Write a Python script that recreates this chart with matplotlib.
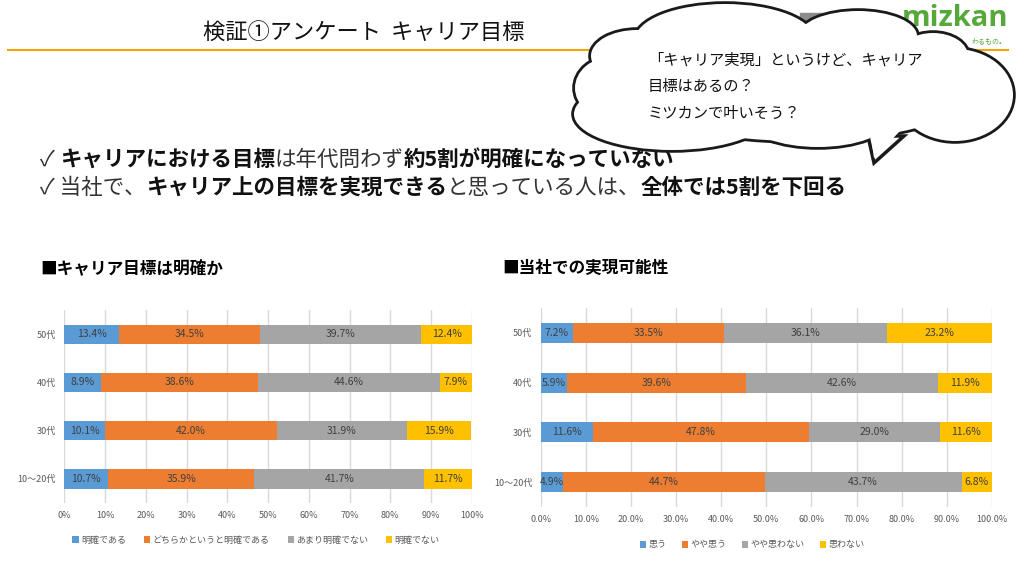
import matplotlib
matplotlib.use("Agg")
import matplotlib.pyplot as plt
from matplotlib.patches import Ellipse, Rectangle, Polygon
import numpy as np

plt.rcParams['font.family'] = ['Noto Sans CJK JP', 'DejaVu Sans']

# data
ages = ['10～20代', '30代', '40代', '50代']

goal_labels = ['明確である', 'どちらかというと明確である', 'あまり明確でない', '明確でない']
goal_vals = [
    [10.7, 10.1, 8.9, 13.4],
    [35.9, 42.0, 38.6, 34.5],
    [41.7, 31.9, 44.6, 39.7],
    [11.7, 15.9, 7.9, 12.4],
]

real_labels = ['思う', 'やや思う', 'やや思わない', '思わない']
real_vals = [
    [4.9, 11.6, 5.9, 7.2],
    [44.7, 47.8, 39.6, 33.5],
    [43.7, 29.0, 42.6, 36.1],
    [6.8, 11.6, 11.9, 23.2],
]

colors = ['#5B9BD5', '#ED7D31', '#A5A5A5', '#FFC000']
xticks = [0, 10, 20, 30, 40, 50, 60, 70, 80, 90, 100]

fig = plt.figure(figsize=(10.24, 5.74), dpi=100)
fig.patch.set_facecolor('white')

# overlay in pixel coords for slide decoration
bg = fig.add_axes([0, 0, 1, 1], zorder=3)
bg.set_xlim(0, 1024)
bg.set_ylim(574, 0)
bg.axis('off')
bg.patch.set_alpha(0)


def stacked(ax, vals, labels, fmt):
    y = np.arange(len(ages))
    left = np.zeros(len(ages))
    for v, lab, c in zip(vals, labels, colors):
        bars = ax.barh(y, v, left=left, height=0.4, color=c, label=lab, zorder=2)
        ax.bar_label(bars, labels=['%.1f%%' % a for a in v], label_type='center',
                     fontsize=7.5, color='#404040')
        left = left + np.array(v)
    ax.set_xlim(0, 100)
    ax.set_ylim(-0.5, 3.5)
    ax.set_yticks(y)
    ax.set_yticklabels(ages, fontsize=6.5, color='#595959')
    ax.set_xticks(xticks)
    ax.set_xticklabels([fmt.format(t) for t in xticks], fontsize=6.5, color='#595959')
    ax.tick_params(length=0, pad=6)
    ax.grid(axis='x', color='#D9D9D9', lw=1, zorder=0)
    for s in ax.spines.values():
        s.set_visible(False)


leg_kw = dict(loc='center', bbox_transform=fig.transFigure, ncol=4, frameon=False, fontsize=6.5,
              handlelength=0.7, handleheight=0.7, handletextpad=0.25, labelcolor='#595959')

ax1 = fig.add_axes([0.0628, 0.1237, 0.398, 0.336])
stacked(ax1, goal_vals, goal_labels, '{:.0f}%')
ax1.legend(bbox_to_anchor=(256 / 1024, 1 - 540 / 574), columnspacing=2.0, **leg_kw)

ax2 = fig.add_axes([0.528, 0.1167, 0.4407, 0.3467])
stacked(ax2, real_vals, real_labels, '{:.1f}%')
ax2.legend(bbox_to_anchor=(752 / 1024, 1 - 545 / 574), columnspacing=1.7, **leg_kw)

# title and rule
bg.text(364, 32, '検証①アンケート  キャリア目標', fontsize=16, ha='center', va='center', color='#111111')
bg.plot([8, 1008], [50, 50], color='#F5A50A', lw=1.5, zorder=1)

# logo (partly behind the cloud)
bg.add_patch(Rectangle((800, 13), 70, 7, color='#8C8C8C', zorder=1))
bg.text(1008, 18, 'mizkan', fontsize=21, fontweight='bold', color='#56A83A', ha='right',
        va='center', family='Open Sans', zorder=1)
bg.text(1007, 41, 'わるもの。', fontsize=5, color='#56A83A', ha='right', va='center', zorder=1)

# cloud: outlined lobes, then white fill on top to hide inner edges
lobes = [
    (612, 88, 74, 62), (637, 56, 92, 52), (725, 40, 180, 72), (858, 36, 118, 50),
    (933, 56, 70, 46), (955, 95, 116, 92), (818, 120, 140, 54), (672, 114, 196, 72),
    (800, 86, 360, 110),
]
tail = [(868, 136), (874, 163), (904, 136)]
for cx, cy, w, h in lobes:
    bg.add_patch(Ellipse((cx, cy), w, h, facecolor='white', edgecolor='#1a1a1a', lw=4, zorder=5))
bg.add_patch(Polygon(tail, closed=True, facecolor='white', edgecolor='#1a1a1a', lw=2.5, zorder=5))
for cx, cy, w, h in lobes:
    bg.add_patch(Ellipse((cx, cy), w, h, facecolor='white', edgecolor='none', zorder=6))
bg.add_patch(Polygon([(870, 130), (874, 158), (901, 130)], closed=True, facecolor='white',
                     edgecolor='none', zorder=6))
cloud_lines = ['「キャリア実現」というけど、キャリア', '目標はあるの？', 'ミツカンで叶いそう？']
for i, s in enumerate(cloud_lines):
    bg.text(648, 60 + 26.5 * i, s, fontsize=11, ha='left', va='center', color='#111111', zorder=7)

# bullet lines with bold runs
r = fig.canvas.get_renderer()


def runs(x, y, parts, size):
    for s, b in parts:
        t = bg.text(x, y, s, fontsize=size, fontweight='bold' if b else 'normal',
                    ha='left', va='baseline', color='#111111' if b else '#333333', zorder=4)
        x += t.get_window_extent(renderer=r).width


runs(40, 166, [('✓ ', False), ('キャリアにおける目標', True), ('は年代問わず', False),
               ('約5割が明確になっていない', True)], 15.5)
runs(40, 194, [('✓ 当社で、', False), ('キャリア上の目標を実現できる', True),
               ('と思っている人は、', False), ('全体では5割を下回る', True)], 15.5)

bg.text(40, 268, '■キャリア目標は明確か', fontsize=12, fontweight='bold', ha='left', va='center')
bg.text(502, 268, '■当社での実現可能性', fontsize=12, fontweight='bold', ha='left', va='center')

fig.savefig('out.png', dpi=100)
